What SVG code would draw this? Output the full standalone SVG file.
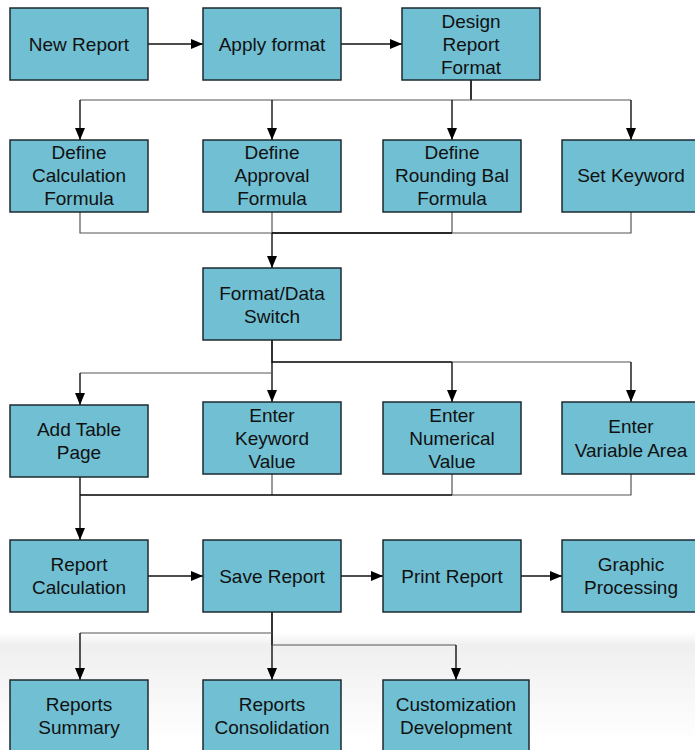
<svg xmlns="http://www.w3.org/2000/svg" width="695" height="750" viewBox="0 0 695 750">
<style>
.box{fill:#70bfd3;stroke:#1c2a30;stroke-width:1.5}
.t{font-family:"Liberation Sans",Arial,sans-serif;font-size:19px;fill:#111;text-anchor:middle}
.c{fill:none;stroke:#555;stroke-width:1.2}
.k{fill:none;stroke:#000;stroke-width:1.6}
.a{fill:none;stroke:#111;stroke-width:1.4;marker-end:url(#ah)}
</style>
<defs>
<marker id="ah" markerUnits="userSpaceOnUse" markerWidth="12" markerHeight="12" viewBox="0 0 12 12" refX="12" refY="6" orient="auto">
<path d="M0,1 L12,6 L0,11 Z" fill="#000"/>
</marker>
<linearGradient id="bg" x1="0" y1="0" x2="0" y2="1">
<stop offset="0" stop-color="#ffffff"/>
<stop offset="0.12" stop-color="#efefef"/>
<stop offset="1" stop-color="#ffffff"/>
</linearGradient>
</defs>
<rect x="0" y="0" width="695" height="750" fill="#fff"/>
<rect x="0" y="632" width="695" height="110" fill="url(#bg)"/>
<g id="connectors">
<path class="a" d="M148,44 H203"/>
<path class="a" d="M341,44 H402"/>
<path class="k" d="M471,80 V100"/>
<path class="c" d="M80,100 H631"/>
<path class="a" d="M80,100 V140"/>
<path class="a" d="M272,100 V140"/>
<path class="a" d="M452,100 V140"/>
<path class="a" d="M631,100 V140"/>
<path class="c" d="M80,212 V233 H631 V212"/>
<path class="c" d="M272,212 V233"/>
<path class="c" d="M452,212 V233"/>
<path class="k" d="M272,233 H452"/>
<path class="a" d="M272,233 V268"/>
<path class="k" d="M272,340 V362 H452"/>
<path class="c" d="M452,362 H631"/>
<path class="a" d="M272,362 V402"/>
<path class="a" d="M452,362 V402"/>
<path class="a" d="M631,362 V402"/>
<path class="c" d="M80,373 H272"/>
<path class="a" d="M80,373 V405"/>
<path class="c" d="M272,474 V495"/>
<path class="c" d="M452,474 V495"/>
<path class="c" d="M631,474 V495 H452"/>
<path class="k" d="M80,495 H452"/>
<path class="a" d="M80,477 V540"/>
<path class="a" d="M148,576 H203"/>
<path class="a" d="M341,576 H383"/>
<path class="a" d="M521,576 H562"/>
<path class="k" d="M272,612 V645"/>
<path class="c" d="M80,633 H272"/>
<path class="a" d="M80,633 V680"/>
<path class="a" d="M272,645 V680"/>
<path class="c" d="M272,645 H456"/>
<path class="a" d="M456,645 V680"/>
</g>
<g id="n1"><rect class="box" x="10" y="8" width="138" height="72"/><text class="t" x="79" y="51">New Report</text></g>
<g id="n2"><rect class="box" x="203" y="8" width="138" height="72"/><text class="t" x="272" y="51">Apply format</text></g>
<g id="n3"><rect class="box" x="402" y="8" width="138" height="72"/><text class="t" x="471" y="28">Design</text><text class="t" x="471" y="51">Report</text><text class="t" x="471" y="74">Format</text></g>
<g id="n4"><rect class="box" x="10" y="140" width="138" height="72"/><text class="t" x="79" y="159">Define</text><text class="t" x="79" y="182">Calculation</text><text class="t" x="79" y="205">Formula</text></g>
<g id="n5"><rect class="box" x="203" y="140" width="138" height="72"/><text class="t" x="272" y="159">Define</text><text class="t" x="272" y="182">Approval</text><text class="t" x="272" y="205">Formula</text></g>
<g id="n6"><rect class="box" x="383" y="140" width="138" height="72"/><text class="t" x="452" y="159">Define</text><text class="t" x="452" y="182">Rounding Bal</text><text class="t" x="452" y="205">Formula</text></g>
<g id="n7"><rect class="box" x="562" y="140" width="140" height="72"/><text class="t" x="631" y="182">Set Keyword</text></g>
<g id="n8"><rect class="box" x="203" y="268" width="138" height="72"/><text class="t" x="272" y="300">Format/Data</text><text class="t" x="272" y="323">Switch</text></g>
<g id="n9"><rect class="box" x="10" y="405" width="138" height="72"/><text class="t" x="79" y="436">Add Table</text><text class="t" x="79" y="459">Page</text></g>
<g id="n10"><rect class="box" x="203" y="402" width="138" height="72"/><text class="t" x="272" y="422">Enter</text><text class="t" x="272" y="445">Keyword</text><text class="t" x="272" y="468">Value</text></g>
<g id="n11"><rect class="box" x="383" y="402" width="138" height="72"/><text class="t" x="452" y="422">Enter</text><text class="t" x="452" y="445">Numerical</text><text class="t" x="452" y="468">Value</text></g>
<g id="n12"><rect class="box" x="562" y="402" width="140" height="72"/><text class="t" x="631" y="433">Enter</text><text class="t" x="631" y="457">Variable Area</text></g>
<g id="n13"><rect class="box" x="10" y="540" width="138" height="72"/><text class="t" x="79" y="571">Report</text><text class="t" x="79" y="594">Calculation</text></g>
<g id="n14"><rect class="box" x="203" y="540" width="138" height="72"/><text class="t" x="272" y="583">Save Report</text></g>
<g id="n15"><rect class="box" x="383" y="540" width="138" height="72"/><text class="t" x="452" y="583">Print Report</text></g>
<g id="n16"><rect class="box" x="562" y="540" width="140" height="72"/><text class="t" x="631" y="571">Graphic</text><text class="t" x="631" y="594">Processing</text></g>
<g id="n17"><rect class="box" x="10" y="680" width="138" height="72"/><text class="t" x="79" y="711">Reports</text><text class="t" x="79" y="734">Summary</text></g>
<g id="n18"><rect class="box" x="203" y="680" width="138" height="72"/><text class="t" x="272" y="711">Reports</text><text class="t" x="272" y="734">Consolidation</text></g>
<g id="n19"><rect class="box" x="383" y="680" width="146" height="72"/><text class="t" x="456" y="711">Customization</text><text class="t" x="456" y="734">Development</text></g>
</svg>
